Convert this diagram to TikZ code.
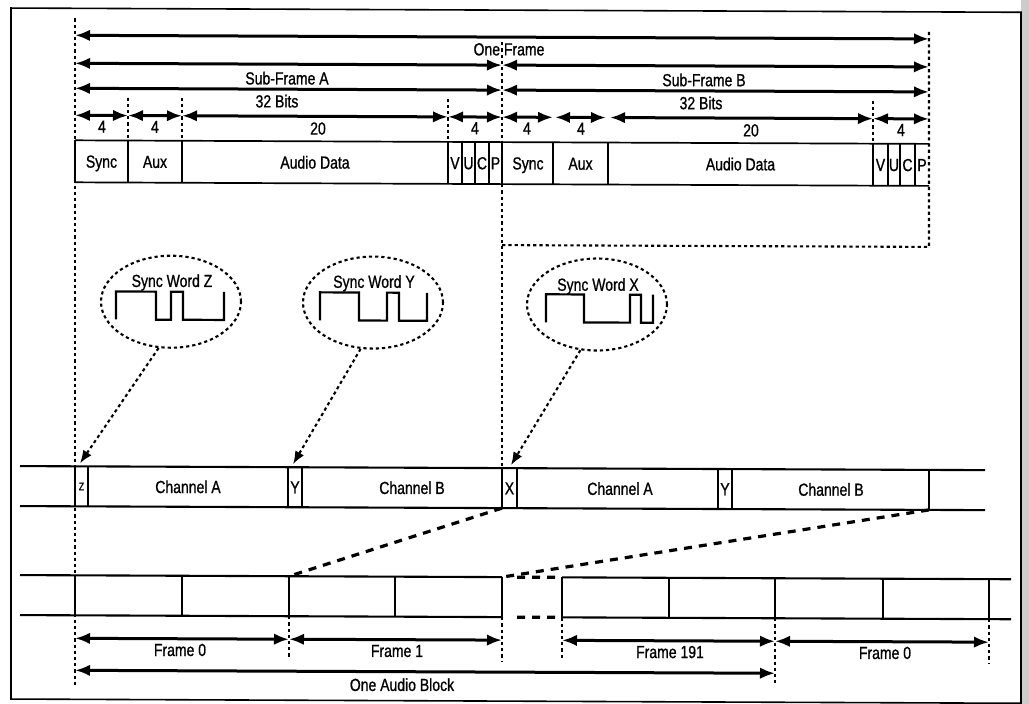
\documentclass[tikz,border=0pt]{standalone}
\usepackage{fontspec}
\setmainfont{Liberation Sans}[FakeStretch=0.8, FakeBold=0.9]
\usetikzlibrary{arrows.meta,shapes.geometric}
\begin{document}
\begin{tikzpicture}[x=1pt,y=-1pt,
  lbl/.style={font=\fontsize{17.5}{19}\selectfont, inner sep=0pt, text height=12.5pt, text depth=0pt},
  tip/.tip={Latex[length=15pt,width=11.5pt]},
  dim/.style={line width=3pt, tip-tip},
  dotl/.style={line width=2.1pt, dash pattern=on 3.2pt off 3pt},
  dotarrow/.style={dotl, -{Latex[length=13pt,width=10pt]}},
  dashl/.style={line width=3.2pt, dash pattern=on 8pt off 7pt},
  cell/.style={line width=1.7pt},
  rowline/.style={line width=2.1pt},
  wave/.style={line width=2.2pt, line join=miter},
  ell/.style={ellipse, draw, dotl, minimum width=140pt, minimum height=92pt, inner sep=0pt},
  frame/.style={line width=1.6pt}]
\useasboundingbox (0,0) rectangle (1029,704);
\fill[gray!40] (1021,0) rectangle (1029,704);
\begin{scope}[yslant=-0.0042]
% outer border
\draw[frame] (11,8) rectangle (1021,699);

% ---------- dotted guide lines ----------
\draw[dotl] (75,18) -- (75,685);
\draw[dotl] (502,40) -- (502,140);
\draw[dotl] (502,182) -- (502,466);
\draw[dotl] (929,28) -- (929,243) -- (502,243);
\foreach \x in {128,182,448,873} \draw[dotl] (\x,97) -- (\x,140);
\draw[dotl] (289,615) -- (289,658);
\draw[dotl] (502,615) -- (502,660);
\draw[dotl] (562,615) -- (562,658);
\draw[dotl] (775,615) -- (775,682);
\draw[dotl] (989,615) -- (989,660);

% ---------- top dimension arrows ----------
\draw[dim] (75,35) -- (929,35);
\draw[dim] (75,63) -- (502,63);
\draw[dim] (502,63) -- (929,63);
\draw[dim] (75,88) -- (502,88);
\draw[dim] (502,88) -- (929,88);
\draw[dim] (75,115) -- (128,115);
\draw[dim] (128,115) -- (182,115);
\draw[dim] (182,115) -- (448,115);
\draw[dim] (448,115) -- (502,115);
\draw[dim] (502,115) -- (553,115);
\draw[dim] (555,115) -- (606,115);
\draw[dim] (610,115) -- (873,115);
\draw[dim] (873,115) -- (929,115);

\node[lbl] (tOne) at (509,47) {One Frame};
\node[lbl] (tSFA) at (287,77) {Sub-Frame A};
\node[lbl] (tSFB) at (704,77) {Sub-Frame B};
\node[lbl] (tBA) at (277,100) {32 Bits};
\node[lbl] (tBB) at (701,100) {32 Bits};
\node[lbl] (n1) at (102,126) {4};
\node[lbl] (n2) at (155,126) {4};
\node[lbl] (n3) at (318,127) {20};
\node[lbl] (n4) at (475,126) {4};
\node[lbl] (n5) at (527,126) {4};
\node[lbl] (n6) at (581,126) {4};
\node[lbl] (n7) at (751,127) {20};
\node[lbl] (n8) at (901,126) {4};

% ---------- sub-frame boxes ----------
\draw[cell] (75,140) -- (929,140);
\draw[cell] (75,182) -- (929,182);
\foreach \x in {75,128,182,448,462,475,489,502,553,608,873,888,900,915}
  \draw[cell] (\x,140) -- (\x,182);
\node[lbl] (bs1) at (101.5,161) {Sync};
\node[lbl] (ba1) at (155,161) {Aux};
\node[lbl] (bd1) at (315,161) {Audio Data};
\node[lbl] (bv1) at (455,161) {V};
\node[lbl] (bu1) at (468.5,161) {U};
\node[lbl] (bc1) at (482,161) {C};
\node[lbl] (bp1) at (495.5,161) {P};
\node[lbl] (bs2) at (528,161) {Sync};
\node[lbl] (ba2) at (580.5,161) {Aux};
\node[lbl] (bd2) at (740.5,161) {Audio Data};
\node[lbl] (bv2) at (880.5,161) {V};
\node[lbl] (bu2) at (894,161) {U};
\node[lbl] (bc2) at (907.5,161) {C};
\node[lbl] (bp2) at (922,161) {P};

% ---------- sync word ellipses ----------
\node[ell] (ez) at (171,301) {};
\node[ell] (ey) at (373,301) {};
\node[ell] (ex) at (597,302) {};
\node[lbl] (tz) at (172,280) {Sync Word Z};
\node[lbl] (ty) at (374,280) {Sync Word Y};
\node[lbl] (tx) at (598,282) {Sync Word X};
\draw[wave] (116,319) -- (116,291) -- (156,291) -- (156,319) -- (171,319) -- (171,291)
  -- (183,291) -- (183,319) -- (224,319) -- (224,291);
\draw[wave] (320,319) -- (320,291) -- (359,291) -- (359,319) -- (387,319) -- (387,291)
  -- (399,291) -- (399,319) -- (427,319) -- (427,291);
\draw[wave] (546,320) -- (546,292) -- (584,292) -- (584,320) -- (630,320) -- (630,292)
  -- (641,292) -- (641,320) -- (653,320) -- (653,292);

% ---------- channel row ----------
\draw[rowline] (20,466) -- (985,466);
\draw[rowline] (20,506) -- (985,506);
\foreach \x in {75,88,288,302,502,517,718,732,929}
  \draw[rowline] (\x,466) -- (\x,506);
\node[lbl, font=\fontsize{11}{12}\selectfont, text height=7.8pt] (cz) at (81.5,486) {Z};
\node[lbl] (ca1) at (188,486) {Channel A};
\node[lbl] (cy1) at (295,486) {Y};
\node[lbl] (cb1) at (412,486) {Channel B};
\node[lbl] (cx) at (509.5,486) {X};
\node[lbl] (ca2) at (620,486) {Channel A};
\node[lbl] (cy2) at (725,486) {Y};
\node[lbl] (cb2) at (831,486) {Channel B};

\coordinate (az) at (80,463);
\coordinate (ay) at (293,463);
\coordinate (ax) at (511,463);
\draw[dotarrow] (ez.255) -- (az);
\draw[dotarrow] (ey.255) -- (ay);
\draw[dotarrow] (ex.250) -- (ax);

% ---------- frame row ----------
\draw[rowline] (20,575) -- (502,575);
\draw[rowline] (20,615) -- (502,615);
\draw[rowline] (562,575) -- (1011,575);
\draw[rowline] (562,615) -- (1011,615);
\foreach \x in {75,182,289,395,502,562,669,775,883,989}
  \draw[rowline] (\x,575) -- (\x,615);
\draw[dashl] (517,575) -- (562,575);
\draw[dashl] (517,615) -- (562,615);
\coordinate (c1a) at (502,506); \coordinate (f1a) at (289,575);
\coordinate (c1b) at (929,506); \coordinate (f1b) at (502,575);
\draw[dashl] (c1a) -- (f1a);
\draw[dashl] (c1b) -- (f1b);

% ---------- frame arrows ----------
\draw[dim] (75,638) -- (289,638);
\draw[dim] (289,638) -- (502,638);
\draw[dim] (562,638) -- (775,638);
\draw[dim] (775,638) -- (989,638);
\draw[dim] (75,670) -- (775,670);
\node[lbl] (fr0) at (180,649) {Frame 0};
\node[lbl] (fr1) at (397,649) {Frame 1};
\node[lbl] (fr191) at (670,649) {Frame 191};
\node[lbl] (fr0b) at (885,649) {Frame 0};
\node[lbl] (blk) at (402,683) {One Audio Block};
\end{scope}
\end{tikzpicture}
\end{document}
